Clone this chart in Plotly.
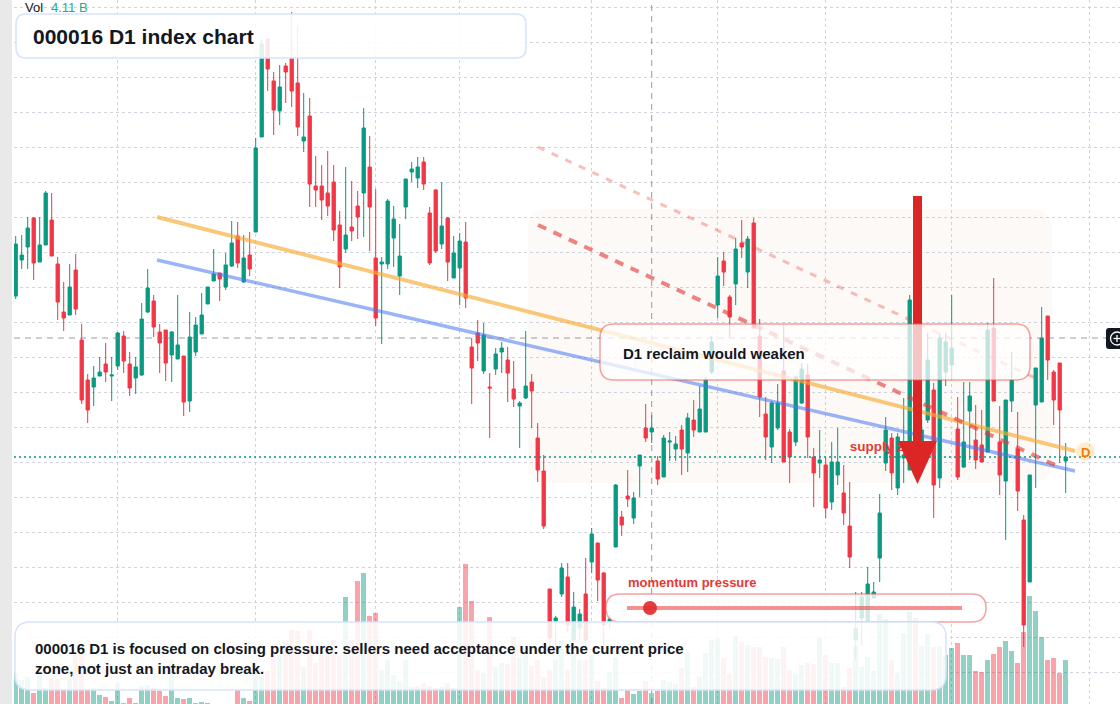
import plotly.graph_objects as go

W, H = 1120, 704
ML = 14
PW = W - ML

# ---------------- data (index 000016, daily) ----------------
idx = list(range(176))
opens = [2704, 2740, 2753, 2782, 2738, 2755, 2780, 2736, 2688, 2685,
         2730, 2660, 2620, 2613, 2624, 2636, 2624, 2634, 2664, 2636,
         2622, 2625, 2688, 2699, 2668, 2670, 2645, 2641, 2644, 2599,
         2648, 2666, 2696, 2719, 2727, 2713, 2734, 2764, 2718, 2745,
         2768, 2863, 2961, 2919, 2889, 2934, 2942, 2917, 2859, 2884,
         2814, 2814, 2807, 2818, 2775, 2751, 2773, 2794, 2807, 2833,
         2742, 2736, 2736, 2762, 2724, 2793, 2828, 2822, 2838, 2787,
         2810, 2756, 2782, 2722, 2732, 2758, 2653, 2667, 2629, 2613,
         2631, 2648, 2640, 2611, 2594, 2602, 2618, 2562, 2529, 2411,
         2379, 2406, 2423, 2360, 2372, 2406, 2438, 2457, 2427, 2379,
         2453, 2483, 2504, 2482, 2534, 2572, 2568, 2539, 2523, 2558,
         2551, 2570, 2547, 2580, 2568, 2568, 2628, 2695, 2739, 2703,
         2716, 2757, 2728, 2777, 2664, 2586, 2553, 2572, 2629, 2568,
         2558, 2597, 2625, 2543, 2537, 2535, 2498, 2525, 2507, 2474,
         2360, 2382, 2379, 2402, 2442, 2537, 2562, 2512, 2542, 2530,
         2670, 2545, 2580, 2610, 2522, 2628, 2635, 2571, 2533, 2589,
         2560, 2555, 2548, 2672, 2558, 2519, 2599, 2551, 2480, 2418,
         2595, 2598, 2684, 2628, 2637, 2539]
highs = [2764, 2765, 2783, 2783, 2783, 2809, 2807, 2743, 2718, 2736,
         2746, 2676, 2626, 2634, 2643, 2657, 2643, 2668, 2669, 2648,
         2643, 2697, 2731, 2705, 2676, 2670, 2669, 2705, 2644, 2688,
         2683, 2707, 2713, 2751, 2727, 2747, 2779, 2778, 2765, 2768,
         2862, 2960, 2962, 2928, 2935, 2937, 2988, 2975, 2907, 2902,
         2844, 2835, 2849, 2835, 2789, 2833, 2819, 2809, 2892, 2864,
         2811, 2743, 2801, 2794, 2776, 2821, 2838, 2843, 2843, 2793,
         2811, 2818, 2783, 2764, 2767, 2778, 2662, 2680, 2677, 2627,
         2652, 2658, 2653, 2639, 2599, 2669, 2626, 2577, 2545, 2411,
         2384, 2437, 2437, 2408, 2391, 2442, 2472, 2457, 2428, 2385,
         2516, 2489, 2530, 2508, 2545, 2596, 2585, 2544, 2565, 2568,
         2564, 2575, 2587, 2600, 2614, 2623, 2664, 2743, 2748, 2705,
         2762, 2780, 2764, 2782, 2681, 2603, 2599, 2616, 2676, 2571,
         2623, 2637, 2636, 2552, 2570, 2543, 2558, 2572, 2535, 2518,
         2408, 2408, 2433, 2418, 2506, 2583, 2567, 2567, 2602, 2705,
         2680, 2580, 2667, 2617, 2667, 2667, 2705, 2603, 2618, 2618,
         2595, 2590, 2677, 2722, 2594, 2600, 2648, 2588, 2485, 2525,
         2632, 2693, 2684, 2630, 2637, 2557]
lows = [2701, 2731, 2731, 2720, 2738, 2755, 2744, 2680, 2669, 2685,
        2685, 2596, 2577, 2594, 2624, 2618, 2599, 2630, 2627, 2604,
        2606, 2624, 2687, 2663, 2627, 2619, 2618, 2641, 2584, 2588,
        2644, 2666, 2696, 2719, 2699, 2710, 2733, 2732, 2717, 2724,
        2768, 2863, 2909, 2865, 2875, 2897, 2893, 2864, 2848, 2793,
        2793, 2780, 2784, 2759, 2712, 2747, 2759, 2761, 2763, 2749,
        2674, 2656, 2731, 2733, 2705, 2781, 2818, 2812, 2810, 2735,
        2747, 2751, 2719, 2722, 2695, 2692, 2596, 2639, 2626, 2562,
        2625, 2627, 2598, 2593, 2552, 2601, 2572, 2518, 2471, 2352,
        2350, 2403, 2368, 2350, 2360, 2350, 2427, 2399, 2350, 2372,
        2453, 2464, 2493, 2476, 2503, 2558, 2557, 2515, 2523, 2539,
        2539, 2525, 2528, 2563, 2568, 2568, 2626, 2682, 2714, 2662,
        2695, 2742, 2712, 2672, 2583, 2540, 2537, 2570, 2538, 2517,
        2554, 2596, 2542, 2493, 2522, 2482, 2490, 2515, 2475, 2432,
        2340, 2355, 2377, 2402, 2418, 2529, 2510, 2505, 2517, 2530,
        2560, 2530, 2577, 2482, 2512, 2614, 2620, 2520, 2532, 2540,
        2531, 2538, 2548, 2599, 2505, 2460, 2588, 2489, 2353, 2418,
        2512, 2598, 2620, 2575, 2537, 2507]
closes = [2756, 2745, 2772, 2737, 2755, 2807, 2744, 2698, 2682, 2713,
          2691, 2600, 2590, 2622, 2628, 2628, 2625, 2667, 2639, 2612,
          2633, 2681, 2712, 2673, 2657, 2637, 2668, 2655, 2598, 2663,
          2675, 2685, 2713, 2726, 2721, 2735, 2757, 2737, 2742, 2731,
          2852, 2956, 2931, 2890, 2913, 2928, 2909, 2873, 2863, 2816,
          2810, 2800, 2794, 2770, 2733, 2765, 2769, 2783, 2872, 2793,
          2682, 2738, 2799, 2781, 2744, 2821, 2831, 2833, 2816, 2737,
          2749, 2774, 2738, 2747, 2759, 2702, 2632, 2657, 2665, 2612,
          2646, 2652, 2627, 2601, 2597, 2614, 2609, 2530, 2474, 2362,
          2382, 2432, 2375, 2393, 2386, 2360, 2466, 2420, 2375, 2381,
          2515, 2475, 2501, 2502, 2545, 2562, 2572, 2521, 2562, 2559,
          2556, 2551, 2582, 2570, 2591, 2620, 2658, 2724, 2728, 2683,
          2751, 2753, 2761, 2672, 2603, 2563, 2597, 2597, 2538, 2543,
          2623, 2631, 2563, 2527, 2540, 2492, 2538, 2538, 2487, 2443,
          2372, 2403, 2416, 2408, 2487, 2570, 2527, 2563, 2545, 2700,
          2580, 2570, 2640, 2515, 2662, 2658, 2652, 2523, 2558, 2604,
          2540, 2538, 2670, 2599, 2525, 2600, 2620, 2509, 2375, 2525,
          2632, 2662, 2640, 2600, 2590, 2543]
volumes_b = [3.45, 3.1, 3.25, 2.45, 3.6, 2.7, 3.2, 3.15, 2.6, 3.15,
             4.4, 4.4, 2.6, 2.7, 2.35, 2.25, 2.05, 3.0, 1.95, 2.2,
             1.95, 2.8, 2.85, 2.7, 2.55, 2.3, 4.1, 2.2, 2.15, 2.2,
             1.95, 2.0, 1.95, 1.6, 1.6, 1.6, 1.8, 2.6, 2.2, 2.05,
             3.6, 3.35, 3.55, 4.35, 4.35, 5.0, 5.6, 5.55, 3.75, 5.6,
             3.95, 4.35, 4.4, 5.1, 4.35, 7.25, 5.1, 8.05, 8.45, 6.3,
             6.45, 3.6, 4.1, 3.35, 3.05, 4.1, 2.75, 2.8, 2.95, 2.8,
             2.7, 2.75, 2.95, 2.7, 6.75, 8.9, 7.05, 3.6, 3.45, 6.25,
             3.75, 3.95, 3.9, 5.25, 4.25, 4.45, 3.8, 4.1, 3.25, 3.6,
             4.1, 5.1, 3.6, 4.65, 4.1, 4.1, 4.35, 3.05, 2.7, 3.5,
             4.25, 2.2, 2.6, 2.4, 2.55, 3.05, 2.45, 2.55, 3.1, 3.0,
             2.9, 3.7, 4.5, 2.75, 3.25, 4.45, 5.1, 5.15, 4.2, 3.4,
             5.3, 5.0, 4.85, 4.75, 4.75, 4.25, 4.2, 4.15, 4.75, 3.6,
             3.4, 3.85, 3.95, 3.9, 5.2, 4.35, 3.95, 3.95, 2.75, 3.7,
             4.8, 3.75, 4.25, 3.55, 6.4, 6.15, 4.1, 3.45, 5.45, 6.5,
             6.2, 4.8, 5.4, 4.75, 4.8, 4.35, 4.7, 4.95, 4.35, 4.35,
             3.55, 3.5, 4.1, 4.4, 4.75, 5.05, 4.55, 3.95, 5.5, 7.3,
             6.55, 5.25, 4.1, 4.2, 3.45, 4.1]
month_starts = [17, 40, 60, 74, 96, 117, 135, 156, 179]

# drawn trend lines: (x_start, price_start, x_end, price_end)
orange_line = (23.55, 2783, 176.55, 2549)
blue_line = (23.55, 2740, 176.55, 2529)
red_dash_line = (87.05, 2775, 173.2, 2535)
red_light_line = (87.05, 2853, 171.0, 2619)
crosshair_x, crosshair_price = 106, 2662
supply_label = (139.0, 2552, "supply zone")

GREEN = "#089981"
RED = "#f23645"

# ---------------- helpers (pixel -> paper) ----------------
def X(px):
    return (px - ML) / PW

def Y(py):
    return 1 - py / H

def rrect(x0, y0, x1, y1, r):
    return (f"M {X(x0 + r)},{Y(y0)} L {X(x1 - r)},{Y(y0)} Q {X(x1)},{Y(y0)} {X(x1)},{Y(y0 + r)} "
            f"L {X(x1)},{Y(y1 - r)} Q {X(x1)},{Y(y1)} {X(x1 - r)},{Y(y1)} "
            f"L {X(x0 + r)},{Y(y1)} Q {X(x0)},{Y(y1)} {X(x0)},{Y(y1 - r)} "
            f"L {X(x0)},{Y(y0 + r)} Q {X(x0)},{Y(y0)} {X(x0 + r)},{Y(y0)} Z")

FONT = "Liberation Sans, Arial, sans-serif"
DARK = "#131722"

vol_colors = ["rgba(8,153,129,0.45)" if c >= o else "rgba(242,54,69,0.45)"
              for o, c in zip(opens, closes)]

fig = go.Figure()
fig.add_trace(go.Bar(x=idx, y=volumes_b, marker=dict(color=vol_colors, line=dict(width=0)),
                     width=0.82, yaxis="y", hoverinfo="skip", showlegend=False))
fig.add_trace(go.Candlestick(
    x=idx, open=opens, high=highs, low=lows, close=closes, yaxis="y2",
    increasing=dict(line=dict(color=GREEN, width=1), fillcolor=GREEN),
    decreasing=dict(line=dict(color=RED, width=1), fillcolor=RED),
    whiskerwidth=0, hoverinfo="skip", showlegend=False))
# label that sits beneath the arrow drawing
fig.add_trace(go.Scatter(x=[supply_label[0]], y=[supply_label[1]], yaxis="y2", mode="text",
                         text=[f"<b>{supply_label[2]}</b>"], textposition="middle right",
                         textfont=dict(size=13.5, color="#e53935", family=FONT),
                         hoverinfo="skip", showlegend=False))

shapes = []
# left grey strip
shapes.append(dict(type="rect", xref="paper", yref="paper", x0=X(0), x1=X(12), y0=0, y1=1,
                   fillcolor="#e9e9e9", line=dict(width=0), layer="below"))
# shaded zone
shapes.append(dict(type="path", xref="paper", yref="paper", path=rrect(528, 209, 1052, 483, 22),
                   fillcolor="rgba(240,200,170,0.10)", line=dict(width=0), layer="below"))
# trend lines
for (x0, p0, x1, p1), col, w, dash in [
        (orange_line, "rgba(247,170,50,0.65)", 4, "solid"),
        (blue_line, "rgba(70,120,240,0.55)", 3.5, "solid"),
        (red_light_line, "rgba(229,57,53,0.32)", 3, "7px,8px"),
        (red_dash_line, "rgba(229,57,53,0.62)", 4, "9px,8px")]:
    shapes.append(dict(type="line", xref="x", yref="y2", x0=x0, y0=p0, x1=x1, y1=p1,
                       line=dict(color=col, width=w, dash=dash), layer="above"))
# current price line
shapes.append(dict(type="line", xref="paper", yref="y2", x0=0, x1=1, y0=closes[-1], y1=closes[-1],
                   line=dict(color=GREEN, width=1.3, dash="2px,3px"), layer="above"))
# crosshair
shapes.append(dict(type="line", xref="x", yref="paper", x0=crosshair_x, x1=crosshair_x, y0=0, y1=1,
                   line=dict(color="rgba(120,123,134,0.75)", width=1, dash="6px,5px"), layer="above"))
shapes.append(dict(type="line", xref="paper", yref="y2", x0=0, x1=1, y0=crosshair_price, y1=crosshair_price,
                   line=dict(color="rgba(120,123,134,0.75)", width=1, dash="6px,5px"), layer="above"))
# big red arrow
shapes.append(dict(type="line", xref="paper", yref="paper", x0=X(917.5), x1=X(917.5), y0=Y(196), y1=Y(444),
                   line=dict(color="#dc2626", width=9), layer="above"))
shapes.append(dict(type="path", xref="paper", yref="paper",
                   path=f"M {X(898)},{Y(441)} L {X(937)},{Y(441)} L {X(917.5)},{Y(484)} Z",
                   fillcolor="#dc2626", line=dict(width=0), layer="above"))
# D marker
shapes.append(dict(type="circle", xref="paper", yref="paper", x0=X(1076), x1=X(1095), y0=Y(442), y1=Y(461),
                   fillcolor="rgba(255,183,77,0.25)", line=dict(width=0), layer="above"))
# title box
shapes.append(dict(type="path", xref="paper", yref="paper", path=rrect(16, 14, 526, 58, 10),
                   fillcolor="rgba(255,255,255,0.88)", line=dict(color="#d6e3fa", width=1.5), layer="above"))
# reclaim box
shapes.append(dict(type="path", xref="paper", yref="paper", path=rrect(600, 324, 1030, 380, 14),
                   fillcolor="rgba(255,255,255,0.74)", line=dict(color="rgba(239,83,80,0.55)", width=1.5),
                   layer="above"))
# momentum box + slider
shapes.append(dict(type="path", xref="paper", yref="paper", path=rrect(606, 594, 986, 622, 14),
                   fillcolor="rgba(255,255,255,0.8)", line=dict(color="rgba(239,83,80,0.55)", width=1.5),
                   layer="above"))
shapes.append(dict(type="line", xref="paper", yref="paper", x0=X(627), x1=X(962), y0=Y(608), y1=Y(608),
                   line=dict(color="rgba(229,57,53,0.55)", width=4), layer="above"))
shapes.append(dict(type="circle", xref="paper", yref="paper", x0=X(643), x1=X(657), y0=Y(601), y1=Y(615),
                   fillcolor="rgba(224,40,40,0.9)", line=dict(width=0), layer="above"))
# bottom box
shapes.append(dict(type="path", xref="paper", yref="paper", path=rrect(15, 622, 946, 690, 15),
                   fillcolor="rgba(255,255,255,0.86)", line=dict(color="#d6e3fa", width=1.5), layer="above"))
# price-label icon at right edge (circled plus)
shapes.append(dict(type="path", xref="paper", yref="paper", path=rrect(1106, 328, 1130, 349, 3),
                   fillcolor="#131722", line=dict(width=0), layer="above"))
shapes.append(dict(type="circle", xref="paper", yref="paper", x0=X(1110.5), x1=X(1123.5), y0=Y(332), y1=Y(345),
                   fillcolor="rgba(0,0,0,0)", line=dict(color="white", width=1.3), layer="above"))
shapes.append(dict(type="line", xref="paper", yref="paper", x0=X(1113.5), x1=X(1120.5), y0=Y(338.5), y1=Y(338.5),
                   line=dict(color="white", width=1.3), layer="above"))
shapes.append(dict(type="line", xref="paper", yref="paper", x0=X(1117), x1=X(1117), y0=Y(335), y1=Y(342),
                   line=dict(color="white", width=1.3), layer="above"))

ann = [
    dict(x=X(23), y=Y(8), text="Vol", font=dict(size=13, color=DARK, family=FONT)),
    dict(x=X(49), y=Y(8), text="4.11 B", font=dict(size=13, color="#22ab94", family=FONT)),
    dict(x=X(31), y=Y(36), text="<b>000016 D1 index chart</b>", font=dict(size=21, color=DARK, family=FONT)),
    dict(x=X(621), y=Y(353), text="<b>D1 reclaim would weaken</b>", font=dict(size=15, color=DARK, family=FONT)),
    dict(x=X(626), y=Y(582), text="<b>momentum pressure</b>", font=dict(size=13, color="#e53935", family=FONT)),
    dict(x=X(1079), y=Y(452), text="<b>D</b>", font=dict(size=13, color="#f57c00", family=FONT)),
    dict(x=X(33), y=Y(658),
         text="<b>000016 D1 is focused on closing pressure: sellers need acceptance under the current price"
              "<br>zone, not just an intraday break.</b>",
         font=dict(size=15, color=DARK, family=FONT), align="left"),
]
for a in ann:
    a.update(xref="paper", yref="paper", xanchor="left", yanchor="middle", showarrow=False)

fig.update_layout(
    width=W, height=H,
    margin=dict(l=ML, r=0, t=0, b=0),
    paper_bgcolor="white", plot_bgcolor="white",
    shapes=shapes, annotations=ann,
    showlegend=False, bargap=0, boxgap=0.22,
    xaxis=dict(range=[-0.283, 184.05], showticklabels=False, ticks="", zeroline=False,
               tickmode="array", tickvals=month_starts, showgrid=True,
               gridcolor="#cfd3dc", griddash="dot", gridwidth=1,
               rangeslider=dict(visible=False), showline=False, fixedrange=True),
    yaxis=dict(range=[1.9, 37.1], showgrid=False, showticklabels=False, zeroline=False,
               ticks="", fixedrange=True),
    yaxis2=dict(range=[2296, 3000], overlaying="y", side="right", showticklabels=False,
                ticks="", zeroline=False, showgrid=True, gridcolor="#cfd3dc", griddash="dot",
                gridwidth=1, tickmode="linear", tick0=2993, dtick=35, fixedrange=True),
)

fig.write_html("out.html", config=dict(displayModeBar=False))
